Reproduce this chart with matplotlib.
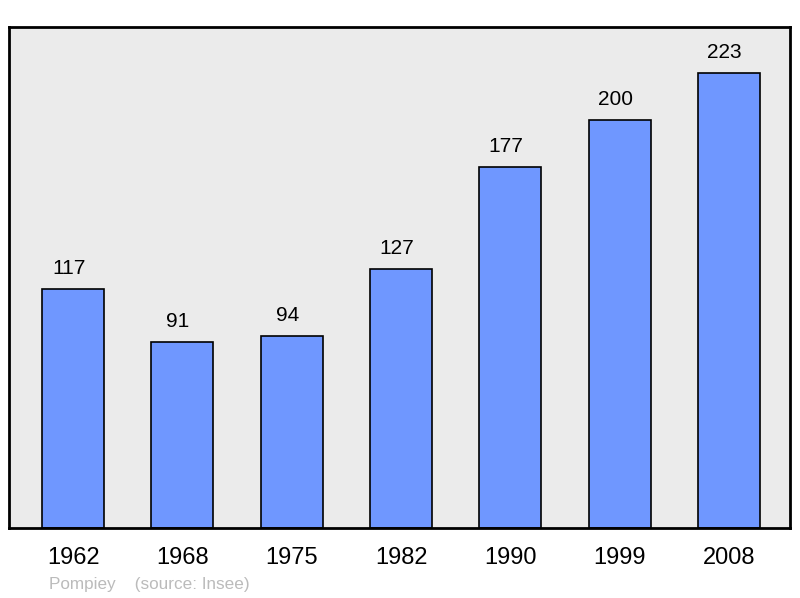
import matplotlib.pyplot as plt

years = ['1962', '1968', '1975', '1982', '1990', '1999', '2008']
population = [117, 91, 94, 127, 177, 200, 223]

plt.rcParams['font.family'] = ['Liberation Sans', 'DejaVu Sans']

fig = plt.figure(figsize=(8, 5.98), dpi=100)
ax = fig.add_axes([9/800, 1 - 528/598, 781/800, 501/598])
ax.set_facecolor('#ebebeb')

x = range(len(years))
bars = ax.bar(x, population, width=0.567, color='#6f97ff', edgecolor='black', linewidth=1.2)
for xi, v in zip(x, population):
    ax.text(xi - 0.04, v + 10, str(v), ha='center', va='center', fontsize=15)

ax.set_xlim(-0.586, 6.558)
ax.set_ylim(0, 245.5)
ax.set_yticks([])
ax.set_xticks(list(x))
ax.set_xticklabels(years, fontsize=17)
ax.tick_params(axis='x', length=0, pad=14)
for s in ax.spines.values():
    s.set_linewidth(2)

fig.text(49/800, 1 - 584/598, 'Pompiey    (source: Insee)', color='#bbbbbb', fontsize=12.3, va='center')

plt.savefig('out.png')
